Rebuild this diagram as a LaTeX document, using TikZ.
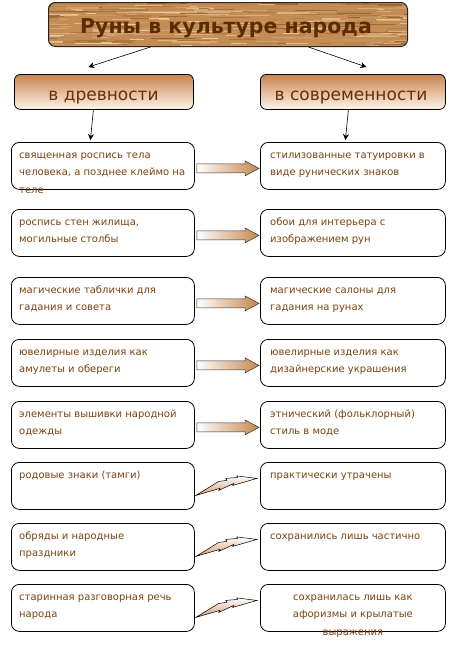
\documentclass[tikz,border=0pt]{standalone}
\usepackage{fontspec}
\setmainfont{DejaVu Sans}
\usetikzlibrary{calc,arrows.meta}
\definecolor{woodbase}{HTML}{C48C55}
\definecolor{woodlight}{HTML}{EDCB9A}
\definecolor{wooddark}{HTML}{9E622C}
\definecolor{titletext}{HTML}{5C2C00}
\definecolor{headtext}{HTML}{6B3000}
\definecolor{bodytext}{HTML}{7A4412}
\definecolor{headtop}{HTML}{C98450}
\definecolor{headbot}{HTML}{FFF4EA}
\definecolor{arrowtan}{HTML}{C4874E}
\definecolor{bolttan}{HTML}{D29A72}
\newcommand\blockarr[2]{%
  \path[blockarrow] ($(#1.east)+(2,-2)$) -- ($(#2.west)+(-15,-2)$) -- ($(#2.west)+(-15,-5)$)
    -- ($(#2.west)+(-1,2.5)$) -- ($(#2.west)+(-15,10)$) -- ($(#2.west)+(-15,7)$)
    -- ($(#1.east)+(2,7)$) -- cycle;}
\newcommand\boltarr[2]{%
  \path[bolt] ($(#1.east)+(1,9.5)$) -- ($(#1.east)+(24,-4.5)$) -- ($(#1.east)+(32,-5.5)$)
    -- ($(#1.east)+(31,-7.5)$) -- ($(#1.east)+(43,-8.5)$) -- ($(#1.east)+(42,-10)$)
    -- ($(#2.west)+(-3,-7.5)$) -- ($(#1.east)+(38,-0.5)$) -- ($(#1.east)+(39,-2.5)$)
    -- ($(#1.east)+(24,4.5)$) -- ($(#1.east)+(25,2.5)$) -- cycle;}
\begin{document}
\begin{tikzpicture}[x=1pt,y=-1pt,
  box/.style={draw=black, line width=0.8pt, rounded corners=8pt, fill=white,
    minimum height=47pt, inner sep=0pt, anchor=north west},
  lbox/.style={box, minimum width=183pt},
  rbox/.style={box, minimum width=185pt},
  headbox/.style={draw=black, line width=0.8pt, rounded corners=6pt, top color=headtop,
    bottom color=headbot, minimum height=35pt, inner sep=0pt, anchor=north west},
  headlabel/.style={anchor=base, text=headtext, font=\fontsize{17}{20}\selectfont},
  body/.style={anchor=north west, inner sep=0pt, text=bodytext, align=left,
    font=\fontsize{10}{17.5}\selectfont},
  bodyc/.style={body, anchor=north, align=center},
  thinarrow/.style={draw=black, line width=0.6pt, -{Stealth[length=6pt,width=6pt]}},
  blockarrow/.style={draw=black!80, line width=0.5pt, left color=white, right color=arrowtan},
  bolt/.style={draw=black, line width=0.5pt, top color=white, bottom color=bolttan}
]
\useasboundingbox (0,0) rectangle (461,646);
\fill[white] (0,0) rectangle (461,646);

% title
\begin{scope}
  \clip[rounded corners=7pt] (48,2) rectangle (407,46);
  \fill[woodbase] (48,2) rectangle (407,46);
  \pgfmathsetseed{11}
  \foreach \i in {1,...,320}{
    \pgfmathsetmacro\xa{20+rnd*390}
    \pgfmathsetmacro\ya{2+rnd*44}
    \pgfmathsetmacro\len{6+rnd*40}
    \pgfmathsetmacro\th{0.4+rnd*1.3}
    \pgfmathsetmacro\mx{int(rnd*100)}
    \draw[line width=\th pt, color=woodlight!\mx!wooddark] (\xa,\ya) -- ++(\len,0);
  }
\end{scope}
\node[draw=black!85, line width=1pt, rounded corners=7pt, minimum width=359pt,
  minimum height=44pt, inner sep=0pt, anchor=north west] (T) at (48,2) {};
\node[anchor=base, text=titletext, font=\bfseries\fontsize{20.5}{24}\selectfont] (Ttext) at (226,33)
  {Руны в культуре народа};

% headers
\node[headbox, minimum width=179pt] (H1) at (14,74) {};
\node[headbox, minimum width=185pt] (H2) at (260,74) {};
\node[headlabel] (H1t) at (103.5,100) {в древности};
\node[headlabel] (H2t) at (351,100) {в современности};

\draw[thinarrow] ($(T.south)+(-77.5,0)$) -- ($(H1.north)+(-15.5,-7)$);
\draw[thinarrow] ($(T.south)+(80.5,0)$) -- ($(H2.north)+(13.5,-7)$);

% boxes
\foreach \n/\y in {1/142,2/209,3/277,4/339,5/401,6/462,7/523,8/584}{
  \node[lbox] (L\n) at (11,\y) {};
  \node[rbox] (R\n) at (260,\y) {};
}

\draw[thinarrow] ($(H1.south)+(-10.5,0)$) -- ($(L1.north)+(-12.5,-2)$);
\draw[thinarrow] ($(H2.south)+(-4.5,0)$) -- ($(R1.north)+(-7.5,-2)$);

% left texts
\node[body] (L1t) at ($(L1.north west)+(8,6)$) {\rule{0pt}{10pt}священная роспись тела\\человека, а позднее клеймо на\\теле};
\node[body] (L2t) at ($(L2.north west)+(8,6)$) {\rule{0pt}{10pt}роспись стен жилища,\\могильные столбы};
\node[body] (L3t) at ($(L3.north west)+(8,6)$) {\rule{0pt}{10pt}магические таблички для\\гадания и совета};
\node[body] (L4t) at ($(L4.north west)+(8,6)$) {\rule{0pt}{10pt}ювелирные изделия как\\амулеты и обереги};
\node[body] (L5t) at ($(L5.north west)+(8,6)$) {\rule{0pt}{10pt}элементы вышивки народной\\одежды};
\node[body] (L6t) at ($(L6.north west)+(8,6)$) {\rule{0pt}{10pt}родовые знаки (тамги)};
\node[body] (L7t) at ($(L7.north west)+(8,6)$) {\rule{0pt}{10pt}обряды и народные\\праздники};
\node[body] (L8t) at ($(L8.north west)+(8,6)$) {\rule{0pt}{10pt}старинная разговорная речь\\народа};

% right texts
\node[body] (R1t) at ($(R1.north west)+(10,6)$) {\rule{0pt}{10pt}стилизованные татуировки в\\виде рунических знаков};
\node[body] (R2t) at ($(R2.north west)+(10,6)$) {\rule{0pt}{10pt}обои для интерьера с\\изображением рун};
\node[body] (R3t) at ($(R3.north west)+(10,6)$) {\rule{0pt}{10pt}магические салоны для\\гадания на рунах};
\node[body] (R4t) at ($(R4.north west)+(10,6)$) {\rule{0pt}{10pt}ювелирные изделия как\\дизайнерские украшения};
\node[body] (R5t) at ($(R5.north west)+(10,6)$) {\rule{0pt}{10pt}этнический (фольклорный)\\стиль в моде};
\node[body] (R6t) at ($(R6.north west)+(10,6)$) {\rule{0pt}{10pt}практически утрачены};
\node[body] (R7t) at ($(R7.north west)+(10,6)$) {\rule{0pt}{10pt}сохранились лишь частично};
\node[bodyc] (R8t) at ($(R8.north)+(0,6)$) {\rule{0pt}{10pt}сохранилась лишь как\\афоризмы и крылатые\\выражения};

% connectors
\blockarr{L1}{R1}
\blockarr{L2}{R2}
\blockarr{L3}{R3}
\blockarr{L4}{R4}
\blockarr{L5}{R5}
\boltarr{L6}{R6}
\boltarr{L7}{R7}
\boltarr{L8}{R8}
\end{tikzpicture}
\end{document}
